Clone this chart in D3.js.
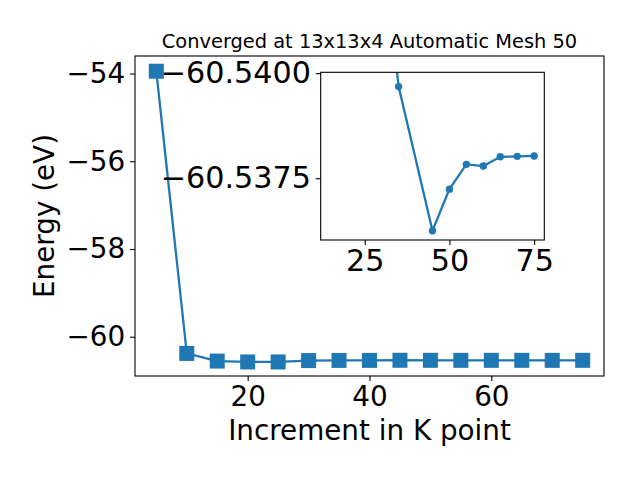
<!DOCTYPE html>
<html><head><meta charset="utf-8">
<script src="https://cdn.jsdelivr.net/npm/d3@7"></script>
<style>body{margin:0;background:#fff}svg{display:block}text{font-family:"DejaVu Sans",sans-serif}</style>
</head><body><svg id="c" width="640" height="480"></svg>
<script>
const kpoints = [5,10,15,20,25,30,35,40,45,50,55,60,65,70,75];
const energy = [-53.947,-60.38,-60.555,-60.575,-60.575,-60.5433,-60.5397,-60.539,-60.5363,-60.5372,-60.5378,-60.5378,-60.5380,-60.5380,-60.5380];
const insetK = [15,20,25,30,35,45,50,55,60,65,70,75];
const insetEnergy = [-60.555,-60.575,-60.575,-60.5433,-60.53968,-60.53625,-60.53724,-60.53783,-60.53779,-60.53801,-60.53802,-60.53803];
const xTicks = [20,40,60];
const yTicks = [-60,-58,-56,-54];
const insetXTicks = [25,50,75];
const insetYTicks = [-60.5400,-60.5375];
const title = "Converged at 13x13x4 Automatic Mesh 50";
const xLabel = "Increment in K point";
const yLabel = "Energy (eV)";

const color = "#1f77b4";
const svg = d3.select("#c");
const M = {l:135, r:604, t:56, b:376};
const x = d3.scaleLinear().domain([1.5,78.5]).range([M.l,M.r]);
const y = d3.scaleLinear().domain([-60.895,-53.60]).range([M.b,M.t]);
const fs = 27.8, ifs = 30.2, tl = 4.9, pad = 4.9;

svg.append("defs").append("clipPath").attr("id","mclip").append("rect")
  .attr("x",M.l).attr("y",M.t).attr("width",M.r-M.l).attr("height",M.b-M.t);

function style(g, size){
  g.select(".domain").remove();
  g.selectAll("line").attr("stroke","#000").attr("stroke-width",1.1);
  g.selectAll("text").attr("font-size",size).attr("fill","#000").style("font-family","DejaVu Sans");
}
const xa = svg.append("g").attr("transform",`translate(0,${M.b})`)
  .call(d3.axisBottom(x).tickValues(xTicks).tickSize(tl).tickPadding(pad).tickFormat(d3.format("d")));
const ya = svg.append("g").attr("transform",`translate(${M.l},0)`)
  .call(d3.axisLeft(y).tickValues(yTicks).tickSize(tl).tickPadding(pad).tickFormat(d3.format("d")));
style(xa, fs); style(ya, fs);

const mdata = kpoints.map((k,i)=>[k,energy[i]]);
svg.append("g").attr("clip-path","url(#mclip)").append("path").datum(mdata)
  .attr("d",d3.line().x(d=>x(d[0])).y(d=>y(d[1])))
  .attr("fill","none").attr("stroke",color).attr("stroke-width",2.3);
svg.append("g").selectAll("rect").data(mdata).join("rect")
  .attr("x",d=>x(d[0])-7.5).attr("y",d=>y(d[1])-7.5).attr("width",15).attr("height",15).attr("fill",color);
svg.append("rect").attr("x",M.l).attr("y",M.t).attr("width",M.r-M.l).attr("height",M.b-M.t)
  .attr("fill","none").attr("stroke","#000").attr("stroke-width",1.1);

svg.append("text").attr("x",(M.l+M.r)/2).attr("y",47.7).attr("text-anchor","middle").attr("font-size",19.4).text(title);
svg.append("text").attr("x",(M.l+M.r)/2).attr("y",440).attr("text-anchor","middle").attr("font-size",fs).text(xLabel);
svg.append("text").attr("transform",`translate(54,${(M.t+M.b)/2}) rotate(-90)`).attr("text-anchor","middle").attr("font-size",fs).text(yLabel);

// inset axes
const I = {l:320.7, r:544.3, t:72.3, b:240};
const ix = d3.scaleLinear().domain([12,78]).range([I.l,I.r]);
const iy = d3.scaleLinear().domain([-60.54002,-60.53603]).range([I.t,I.b]);
svg.append("rect").attr("x",I.l).attr("y",I.t).attr("width",I.r-I.l).attr("height",I.b-I.t).attr("fill","#fff");
svg.select("defs").append("clipPath").attr("id","iclip").append("rect")
  .attr("x",I.l).attr("y",I.t).attr("width",I.r-I.l).attr("height",I.b-I.t);
const ixa = svg.append("g").attr("transform",`translate(0,${I.b})`)
  .call(d3.axisBottom(ix).tickValues(insetXTicks).tickSize(tl).tickPadding(pad).tickFormat(d3.format("d")));
const iya = svg.append("g").attr("transform",`translate(${I.l},0)`)
  .call(d3.axisLeft(iy).tickValues(insetYTicks).tickSize(tl).tickPadding(pad).tickFormat(d3.format(".4f")));
style(ixa, ifs); style(iya, ifs);
const ig = svg.append("g").attr("clip-path","url(#iclip)");
const idata = insetK.map((k,i)=>[k,insetEnergy[i]]);
ig.append("path").datum(idata).attr("d",d3.line().x(d=>ix(d[0])).y(d=>iy(d[1])))
  .attr("fill","none").attr("stroke",color).attr("stroke-width",2.3);
ig.selectAll("circle").data(idata).join("circle").attr("cx",d=>ix(d[0])).attr("cy",d=>iy(d[1])).attr("r",3.7).attr("fill",color);
svg.append("rect").attr("x",I.l).attr("y",I.t).attr("width",I.r-I.l).attr("height",I.b-I.t)
  .attr("fill","none").attr("stroke","#000").attr("stroke-width",1.1);
</script></body></html>
